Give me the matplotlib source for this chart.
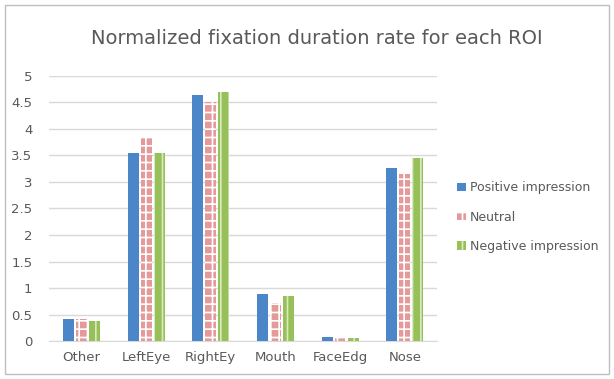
import matplotlib.pyplot as plt
import numpy as np
from matplotlib.patches import Rectangle

# values
rois = ['Other', 'LeftEye', 'RightEy', 'Mouth', 'FaceEdg', 'Nose']
positive = [0.41, 3.54, 4.63, 0.88, 0.07, 3.26]
neutral = [0.41, 3.84, 4.50, 0.71, 0.07, 3.15]
negative = [0.38, 3.54, 4.70, 0.85, 0.05, 3.46]
yticks = [0, 0.5, 1, 1.5, 2, 2.5, 3, 3.5, 4, 4.5, 5]

plt.rcParams['hatch.linewidth'] = 1.2
grey = '#595959'

fig = plt.figure(figsize=(6.14, 3.79), dpi=100)
ax = fig.add_axes([0.08, 0.10, 0.632, 0.70])

x = np.arange(len(rois))
w = 0.17
ax.bar(x - 0.2, positive, w, color='#4a86c8', label='Positive impression', zorder=3)
ax.bar(x, neutral, w, color='#e49a9a', edgecolor='white', linewidth=0,
       hatch='++', label='Neutral', zorder=3)
ax.bar(x + 0.2, negative, w, color='#98c05a', edgecolor='#d8eac0', linewidth=0,
       hatch='||', label='Negative impression', zorder=3)

ax.set_ylim(0, 5)
ax.set_xlim(-0.5, len(rois) - 0.5)
ax.set_yticks(yticks)
ax.set_yticklabels([f'{v:g}' for v in yticks])
ax.set_xticks(x)
ax.set_xticklabels(rois)
ax.tick_params(length=0, colors=grey, labelsize=9.5)
ax.tick_params(axis='y', pad=12)
ax.tick_params(axis='x', pad=7)
ax.yaxis.grid(True, color='#d9d9d9', linewidth=1, zorder=0)
for s in ['top', 'right', 'left']:
    ax.spines[s].set_visible(False)
ax.spines['bottom'].set_color('#d9d9d9')

fig.text(0.516, 0.898, 'Normalized fixation duration rate for each ROI',
         ha='center', va='center', fontsize=14, color=grey)

leg = fig.legend(loc='center left', bbox_to_anchor=(0.745, 0.427), frameon=False,
                 fontsize=9, handlelength=0.7, handleheight=0.7,
                 handletextpad=0.3, labelspacing=1.3, borderpad=0, borderaxespad=0)
for t in leg.get_texts():
    t.set_color(grey)

# light frame around the whole chart
fig.patches.append(Rectangle((0.008, 0.012), 0.984, 0.975, transform=fig.transFigure,
                             fill=False, edgecolor='#bfbfbf', linewidth=1))

fig.savefig('out.png', dpi=100)
